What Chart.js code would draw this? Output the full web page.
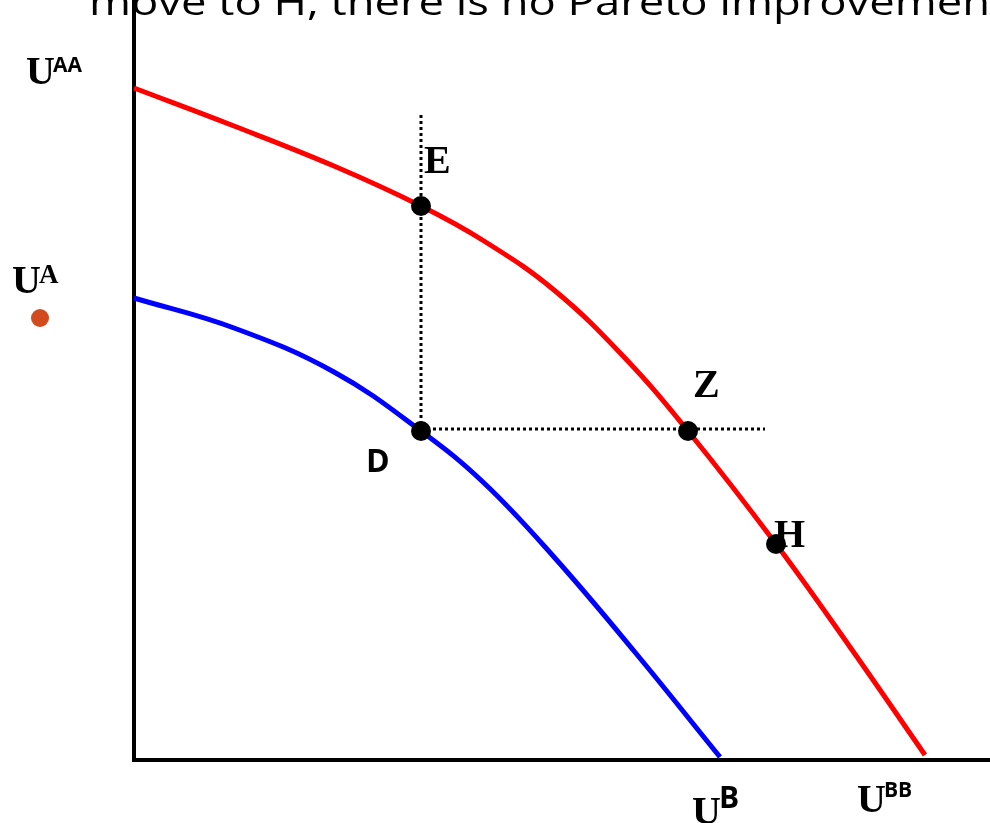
<!DOCTYPE html>
<html>
<head>
<meta charset="utf-8">
<script src="https://cdn.jsdelivr.net/npm/chart.js@4.4.1/dist/chart.umd.min.js"></script>
<style>
  html, body { margin: 0; padding: 0; background: #fff; }
  canvas { display: block; }
</style>
</head>
<body>
<canvas id="upf" width="990" height="823"></canvas>
<script>
// Utility possibility frontiers (schematic units)
const redX = [0, 100, 200, 287, 350, 420, 490, 554, 642, 716, 791];
const redY = [672, 634, 594, 554, 519, 470, 403, 329, 216, 113, 5];
const blueX = [0, 100, 200, 287, 350, 420, 500, 586];
const blueY = [462, 432, 388, 329, 277, 203, 109, 3];

// Named points E, D, Z, H
const pointNames = ['E', 'D', 'Z', 'H'];
const pointX = [287, 287, 554, 642];
const pointY = [554, 329, 329, 216];

// Dotted guide lines
const vGuideX = [287, 287];
const vGuideY = [645, 329];
const hGuideX = [287, 631];
const hGuideY = [331, 331];

// U^A marker on the left, outside the plot area
const uaX = [-94];
const uaY = [442];

const titleText = 'move to H, there is no Pareto improvement';

function toXY(xs, ys) {
    return xs.map((x, i) => ({ x: x, y: ys[i] }));
}

// Draws the cut-off heading, the U^A marker and the letter labels
const labelPlugin = {
    id: 'labels',
    afterDraw(chart) {
        const ctx = chart.ctx;
        const sx = chart.scales.x, sy = chart.scales.y;
        const px = v => sx.getPixelForValue(v);
        const py = v => sy.getPixelForValue(v);

        ctx.save();
        ctx.fillStyle = '#000';
        ctx.textBaseline = 'alphabetic';
        ctx.textAlign = 'left';

        // heading, only its bottom part shows
        ctx.font = '36px "Open Sans"';
        const part = ctx.measureText('move to H, there is no Pareto improvemen').width;
        ctx.save();
        ctx.translate(89, 15);
        ctx.scale(901 / part, 1);
        ctx.fillText(titleText, 0, 0);
        ctx.restore();

        // orange marker under U^A
        ctx.save();
        ctx.fillStyle = '#d24b1e';
        ctx.beginPath();
        ctx.arc(px(uaX[0]), py(uaY[0]), 9, 0, Math.PI * 2);
        ctx.fill();
        ctx.restore();

        const serif = 'bold 40px "Liberation Serif"';
        const sans = s => 'bold ' + s + 'px "Open Sans"';

        function label(text, sup, x, y, mainFont, supFont, supRise) {
            ctx.font = mainFont;
            ctx.fillText(text, x, y);
            if (sup) {
                const w = ctx.measureText(text).width;
                ctx.font = supFont;
                ctx.fillText(sup, x + w - 2, y - supRise);
            }
        }

        const pE = [px(pointX[0]), py(pointY[0])];
        const pD = [px(pointX[1]), py(pointY[1])];
        const pZ = [px(pointX[2]), py(pointY[2])];
        const pH = [px(pointX[3]), py(pointY[3])];

        label(pointNames[0], null, pE[0] + 3, pE[1] - 33, serif);
        label(pointNames[1], null, pD[0] - 55, pD[1] + 41, sans(32));
        label(pointNames[2], null, pZ[0] + 5, pZ[1] - 34, serif);
        label(pointNames[3], null, pH[0] - 2, pH[1] + 3, serif);

        // axis labels
        label('U', 'AA', px(0) - 108, py(redY[0]) - 4, serif, sans(21), 12);
        label('U', 'A', px(0) - 122, py(blueY[0]) - 5, serif, 'bold 27px "Liberation Serif"', 10);
        label('U', 'B', px(blueX[blueX.length - 1]) - 28, py(0) + 64, serif, sans(30), 16);
        label('U', 'BB', px(redX[redX.length - 1]) - 68, py(0) + 52, serif, sans(21), 15);

        ctx.restore();
    }
};

const ctx = document.getElementById('upf').getContext('2d');
const upfChart = new Chart(ctx, {
    type: 'scatter',
    data: {
        datasets: [
            {
                label: 'Points',
                data: toXY(pointX, pointY),
                pointRadius: 10,
                pointBackgroundColor: '#000',
                pointBorderWidth: 0,
                showLine: false,
                clip: false
            },
            {
                label: 'Vertical guide',
                data: toXY(vGuideX, vGuideY),
                showLine: true,
                borderColor: '#000',
                borderWidth: 3,
                borderDash: [3, 3],
                pointRadius: 0,
                clip: false
            },
            {
                label: 'Horizontal guide',
                data: toXY(hGuideX, hGuideY),
                showLine: true,
                borderColor: '#000',
                borderWidth: 3,
                borderDash: [3, 3],
                pointRadius: 0,
                clip: false
            },
            {
                label: 'Outer frontier',
                data: toXY(redX, redY),
                showLine: true,
                borderColor: '#ff0000',
                borderWidth: 5,
                pointRadius: 0,
                tension: 0.4,
                clip: false
            },
            {
                label: 'Inner frontier',
                data: toXY(blueX, blueY),
                showLine: true,
                borderColor: '#0000ff',
                borderWidth: 5,
                pointRadius: 0,
                tension: 0.4,
                clip: false
            }
        ]
    },
    options: {
        responsive: false,
        animation: false,
        layout: {
            autoPadding: false,
            padding: { left: 134, right: 0, top: 0, bottom: 63 }
        },
        plugins: {
            legend: { display: false },
            tooltip: { enabled: false }
        },
        scales: {
            x: {
                type: 'linear',
                min: 0,
                max: 856,
                ticks: { display: false },
                grid: { display: false, drawTicks: false },
                border: { display: true, color: '#000', width: 4 }
            },
            y: {
                type: 'linear',
                min: 0,
                max: 760,
                ticks: { display: false },
                grid: { display: false, drawTicks: false },
                border: { display: true, color: '#000', width: 4 }
            }
        }
    },
    plugins: [labelPlugin]
});
</script>
</body>
</html>
